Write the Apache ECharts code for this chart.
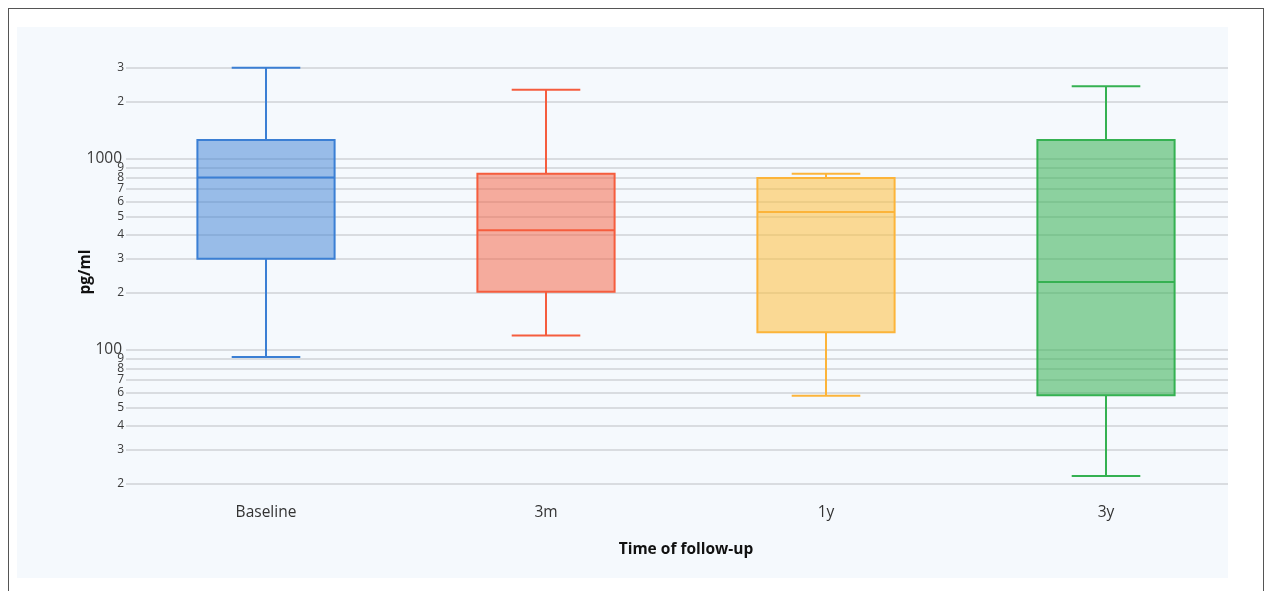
<!DOCTYPE html>
<html>
<head>
<meta charset="utf-8">
<script src="https://cdn.jsdelivr.net/npm/echarts@6/dist/echarts.min.js"></script>
<style>
  html, body { margin: 0; padding: 0; width: 1264px; height: 591px; overflow: hidden; background: #ffffff; }
  #frame { position: absolute; left: 8px; top: 8px; width: 1256px; height: 620px; border: 1.5px solid #555; box-sizing: border-box; }
  #clip { position: absolute; left: 17px; top: 27px; width: 1211px; height: 551px; overflow: hidden; background: #f5f9fd; }
  #chart { position: absolute; left: 0; top: 0; width: 1250px; height: 551px; }
</style>
</head>
<body>
<div id="frame"></div>
<div id="clip"><div id="chart"></div></div>
<script>
// ---- data ----
const categories = ['Baseline', '3m', '1y', '3y'];
const whiskerLow  = [92, 119, 57.6, 21.9];
const q1          = [300, 202, 124, 58];
const median      = [800, 423, 528, 227];
const q3          = [1257, 838, 795, 1257];
const whiskerHigh = [3000, 2300, 838, 2400];

const yTickValues = [20, 30, 40, 50, 60, 70, 80, 90, 100, 200, 300, 400, 500, 600, 700, 800, 900, 1000, 2000, 3000];
const yTickLabels = ['2', '3', '4', '5', '6', '7', '8', '9', '100', '2', '3', '4', '5', '6', '7', '8', '9', '1000', '2', '3'];
const yMajorTicks = [100, 1000];

const lineColors = ['#3b7fd4', '#f55d3e', '#fcb43a', '#35b152'];
const fillColors = ['rgba(59,127,212,0.5)', 'rgba(245,93,62,0.5)', 'rgba(253,192,62,0.55)', 'rgba(53,177,82,0.55)'];

const FONT = '"Open Sans", "Noto Sans", sans-serif';

const boxData = categories.map((c, i) => [i, whiskerLow[i], q1[i], median[i], q3[i], whiskerHigh[i]]);

function renderBox(params, api) {
  const i = api.value(0);
  const pLo = api.coord([i, api.value(1)]);
  const pQ1 = api.coord([i, api.value(2)]);
  const pMed = api.coord([i, api.value(3)]);
  const pQ3 = api.coord([i, api.value(4)]);
  const pHi = api.coord([i, api.value(5)]);
  const band = api.size([1, 1])[0];
  const bw = band * 0.49;
  const cw = bw / 2;
  const cx = pMed[0];
  const stroke = lineColors[params.dataIndex];
  const fill = fillColors[params.dataIndex];
  const ls = { stroke: stroke, lineWidth: 2 };
  return {
    type: 'group',
    children: [
      { type: 'line', shape: { x1: cx, y1: pQ3[1], x2: cx, y2: pHi[1] }, style: ls },
      { type: 'line', shape: { x1: cx, y1: pQ1[1], x2: cx, y2: pLo[1] }, style: ls },
      { type: 'line', shape: { x1: cx - cw / 2, y1: pHi[1], x2: cx + cw / 2, y2: pHi[1] }, style: ls },
      { type: 'line', shape: { x1: cx - cw / 2, y1: pLo[1], x2: cx + cw / 2, y2: pLo[1] }, style: ls },
      { type: 'rect', shape: { x: cx - bw / 2, y: pQ3[1], width: bw, height: pQ1[1] - pQ3[1] }, style: { fill: fill, stroke: stroke, lineWidth: 2 } },
      { type: 'line', shape: { x1: cx - bw / 2, y1: pMed[1], x2: cx + bw / 2, y2: pMed[1] }, style: ls }
    ]
  };
}

const chart = echarts.init(document.getElementById('chart'), null, { renderer: 'canvas' });
chart.setOption({
  animation: false,
  backgroundColor: 'transparent',
  textStyle: { fontFamily: FONT },
  grid: { left: 109, width: 1120, top: 21, height: 448 },
  xAxis: {
    type: 'category',
    data: categories,
    boundaryGap: true,
    axisLine: { show: false },
    axisTick: { show: false },
    splitLine: { show: false },
    axisLabel: { color: '#333', fontSize: 15.5, margin: 9, fontFamily: FONT },
    name: 'Time of follow-up',
    nameLocation: 'middle',
    nameGap: 46,
    nameTextStyle: { color: '#111', fontSize: 15.5, fontWeight: 'bold', fontFamily: FONT }
  },
  yAxis: {
    type: 'log',
    logBase: 10,
    min: 17.2,
    max: 3810,
    axisLine: { show: false },
    axisTick: { show: false },
    splitLine: { show: false },
    axisLabel: { show: false },
    name: 'pg/ml',
    nameLocation: 'middle',
    nameRotate: 90,
    nameGap: 32,
    nameTextStyle: { color: '#111', fontSize: 15.5, fontWeight: 'bold', fontFamily: FONT }
  },
  series: [
    {
      type: 'line',
      z: 1,
      data: [],
      silent: true,
      markLine: {
        silent: true,
        symbol: 'none',
        z: 1,
        animation: false,
        lineStyle: { color: '#cfd2d6', width: 1.5, type: 'solid' },
        emphasis: { disabled: true },
        data: yTickValues.map((v, i) => {
          const major = yMajorTicks.indexOf(v) >= 0;
          return {
            yAxis: v,
            label: {
              show: true,
              position: 'start',
              formatter: yTickLabels[i],
              color: '#3a3a3a',
              fontFamily: FONT,
              fontSize: major ? 15.5 : 12,
              distance: major ? 4 : 2,
              padding: major ? [0, 0, 4, 0] : 0
            }
          };
        })
      }
    },
    {
      type: 'custom',
      z: 2,
      renderItem: renderBox,
      encode: { x: 0, y: [1, 2, 3, 4, 5] },
      data: boxData
    }
  ]
});
</script>
</body>
</html>
